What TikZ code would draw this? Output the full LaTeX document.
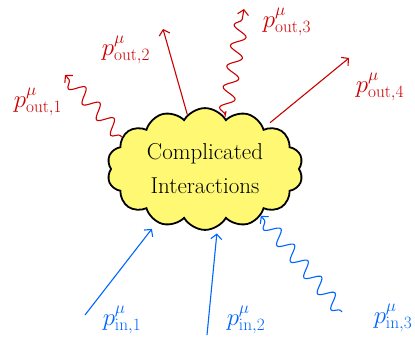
\documentclass[tikz,border=0pt]{standalone}
\usetikzlibrary{shapes.symbols,decorations.pathmorphing,arrows.meta}
\begin{document}
\begin{tikzpicture}
    [x=1pt,y=-1pt,
     blob/.style={cloud,draw,line width=1.8pt,fill=yellow!55,cloud puffs=14,cloud puff arc=120,aspect=1.7,minimum width=196pt,minimum height=118pt,align=center,font=\fontsize{23}{34}\selectfont},
     outline/.style={draw=red!80!black,line width=1.1pt,-{Straight Barb[length=5pt,width=11pt]}},
     inline/.style={draw=blue!60!cyan,line width=1.1pt,-{Straight Barb[length=5pt,width=11pt]}},
     wiggle/.style={decorate,decoration={snake,amplitude=7pt,segment length=21pt,pre length=2pt,post length=5pt}},
     outlabel/.style={text=red!80!black,font=\fontsize{26}{28}\selectfont},
     inlabel/.style={text=blue!60!cyan,font=\fontsize{26}{28}\selectfont}]
    \useasboundingbox (0,0) rectangle (415,343);
    \node[blob] (cloud) at (205,169) {Complicated\\Interactions};

    % free ends
    \coordinate (out1) at (65,75);
    \coordinate (out2) at (163,29);
    \coordinate (out3) at (244,9);
    \coordinate (out4) at (349,58);
    \coordinate (in1) at (85,315);
    \coordinate (in2) at (207,335);
    \coordinate (in3) at (342,312);

    \node[outlabel] (pout1) at (38,102) {$p^{\mu}_{\mathrm{out},1}$};
    \node[outlabel] (pout2) at (126,50) {$p^{\mu}_{\mathrm{out},2}$};
    \node[outlabel] (pout3) at (287,22) {$p^{\mu}_{\mathrm{out},3}$};
    \node[outlabel] (pout4) at (380,87) {$p^{\mu}_{\mathrm{out},4}$};
    \node[inlabel] (pin1) at (122,320) {$p^{\mu}_{\mathrm{in},1}$};
    \node[inlabel] (pin2) at (246,320) {$p^{\mu}_{\mathrm{in},2}$};
    \node[inlabel] (pin3) at (393,318) {$p^{\mu}_{\mathrm{in},3}$};

    \draw[outline,wiggle] (cloud.159) -- (out1);
    \draw[outline] (cloud.108) -- (out2);
    \draw[outline,wiggle,shorten <=6pt] (cloud.69) -- (out3);
    \draw[outline,shorten <=8pt] (cloud.35) -- (out4);
    \draw[inline,shorten >=8pt] (in1) -- (cloud.228);
    \draw[inline,shorten >=6pt] (in2) -- (cloud.282);
    \draw[inline,wiggle] (in3) -- (cloud.320);
\end{tikzpicture}
\end{document}
